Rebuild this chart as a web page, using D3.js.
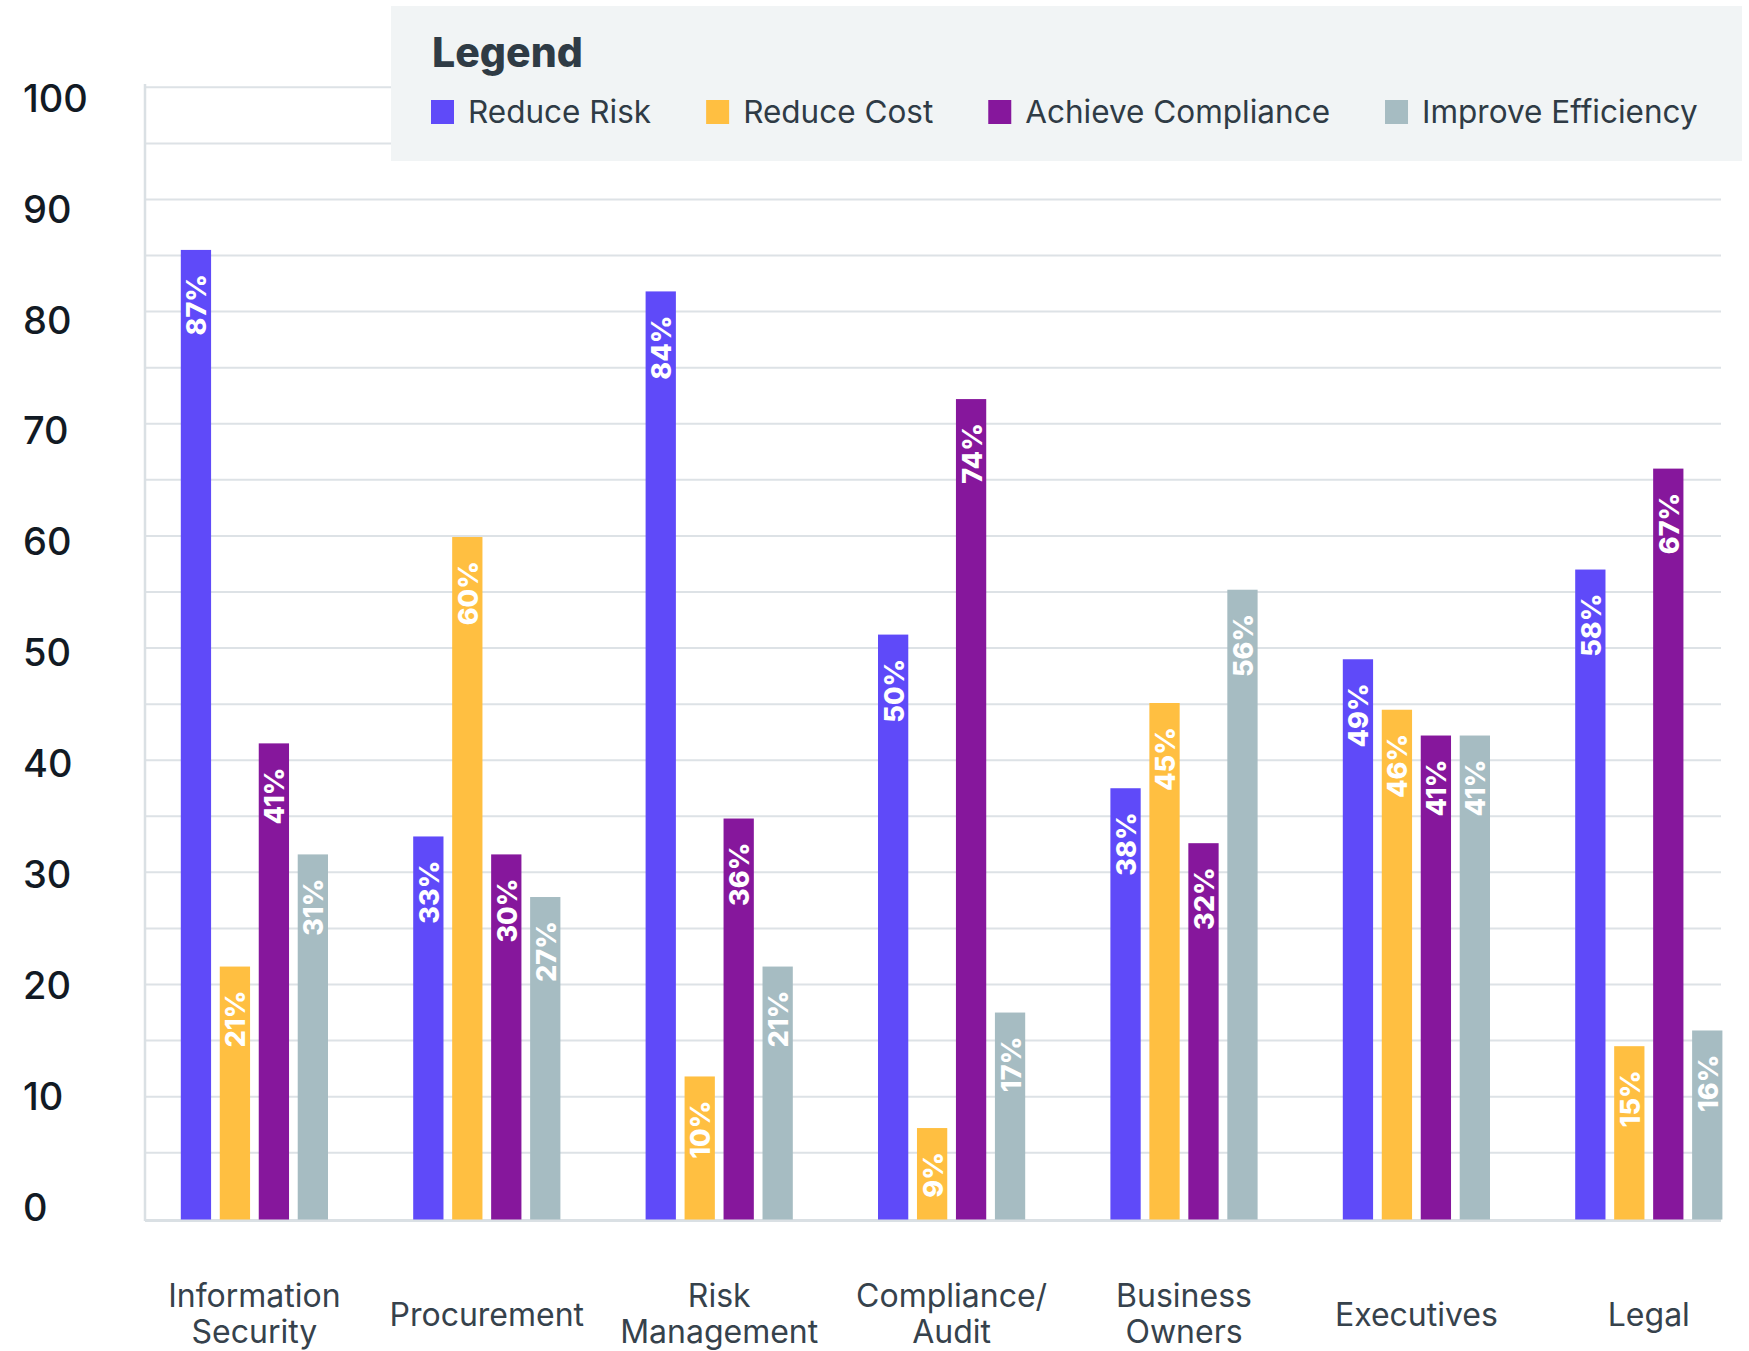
<!DOCTYPE html>
<html>
<head>
<meta charset="utf-8">
<script src="https://cdn.jsdelivr.net/npm/d3@7"></script>
<style>
  body { margin: 0; background: #fff; }
  svg { display: block; font-family: Inter, "Liberation Sans", sans-serif; }
</style>
</head>
<body>
<svg id="chart" width="1749" height="1351"></svg>
<script>
// categories (lines of the axis label)
var categories = [
  ["Information", "Security"],
  ["Procurement"],
  ["Risk", "Management"],
  ["Compliance/", "Audit"],
  ["Business", "Owners"],
  ["Executives"],
  ["Legal"]
];
var series = ["Reduce Risk", "Reduce Cost", "Achieve Compliance", "Improve Efficiency"];
var colors = ["#5f4af9", "#ffbf41", "#86179c", "#a6bcc2"];

// bar heights as drawn in the picture
var reduceRisk = [85.5, 33.2, 81.8, 51.2, 37.5, 49.0, 57.0];
var reduceCost = [21.6, 59.9, 11.8, 7.2, 45.1, 44.5, 14.5];
var achieveCompliance = [41.5, 31.6, 34.8, 72.2, 32.6, 42.2, 66.0];
var improveEfficiency = [31.6, 27.8, 21.6, 17.5, 55.2, 42.2, 15.9];

// the percentages printed on the bars
var riskLabels = [87, 33, 84, 50, 38, 49, 58];
var costLabels = [21, 60, 10, 9, 45, 46, 15];
var complianceLabels = [41, 30, 36, 74, 32, 41, 67];
var efficiencyLabels = [31, 27, 21, 17, 56, 41, 16];

var yTicks = [0, 10, 20, 30, 40, 50, 60, 70, 80, 90, 100];
var gridTicks = d3.range(5, 101, 5);

var values = [reduceRisk, reduceCost, achieveCompliance, improveEfficiency];
var labels = [riskLabels, costLabels, complianceLabels, efficiencyLabels];

var svg = d3.select("#chart");

var left = 145, right = 1721, base = 1220;

var y = d3.scaleLinear().domain([0, 100]).range([1208.8, 87.3]);
var yText = d3.scaleLinear().domain([0, 100]).range([1220.7, 111.7]);

var keys = categories.map(function(d) { return d.join(" "); });
var x0 = d3.scalePoint().domain(keys).range([254.4, 1648.8]);
var x1 = d3.scaleBand().domain(series).range([-73.6, 73.6]).paddingInner(0.223);

// gridlines
svg.append("g")
  .selectAll("line")
  .data(gridTicks)
  .enter()
  .append("line")
  .attr("x1", left)
  .attr("x2", right)
  .attr("y1", function(d) { return y(d); })
  .attr("y2", function(d) { return y(d); })
  .attr("stroke", "#dde2e6")
  .attr("stroke-width", 2);

// axis lines
svg.append("line")
  .attr("x1", left).attr("x2", left)
  .attr("y1", 84).attr("y2", base + 1)
  .attr("stroke", "#dae0e4").attr("stroke-width", 2.5);
svg.append("line")
  .attr("x1", left).attr("x2", right)
  .attr("y1", base + 0.5).attr("y2", base + 0.5)
  .attr("stroke", "#dae0e4").attr("stroke-width", 3);

// y tick labels
svg.append("g")
  .selectAll("text")
  .data(yTicks)
  .enter()
  .append("text")
  .attr("x", 23)
  .attr("y", function(d) { return yText(d); })
  .attr("font-size", 38)
  .attr("font-weight", 500)
  .attr("fill", "#121a24")
  .text(function(d) { return d; });

// bars
var groups = svg.append("g")
  .selectAll("g")
  .data(keys)
  .enter()
  .append("g")
  .attr("transform", function(d) { return "translate(" + x0(d) + ",0)"; });

groups.each(function(cat, ci) {
  var g = d3.select(this);
  var rows = series.map(function(s, si) {
    return { s: s, v: values[si][ci], label: labels[si][ci], color: colors[si] };
  });

  g.selectAll("rect")
    .data(rows)
    .enter()
    .append("rect")
    .attr("x", function(d) { return x1(d.s); })
    .attr("width", x1.bandwidth())
    .attr("y", function(d) { return y(d.v); })
    .attr("height", function(d) { return base - 0.5 - y(d.v); })
    .attr("fill", function(d) { return d.color; });

  g.selectAll("text")
    .data(rows)
    .enter()
    .append("text")
    .attr("transform", function(d) {
      return "translate(" + (x1(d.s) + x1.bandwidth() / 2 + 1) + "," + (y(d.v) + 24) + ") rotate(-90)";
    })
    .attr("text-anchor", "end")
    .attr("dominant-baseline", "central")
    .attr("font-size", 27)
    .attr("font-weight", 800)
    .attr("fill", "#fff")
    .text(function(d) { return d.label + "%"; });
});

// category labels
svg.append("g")
  .selectAll("text")
  .data(categories)
  .enter()
  .append("text")
  .attr("x", function(d) { return x0(d.join(" ")); })
  .attr("text-anchor", "middle")
  .attr("font-size", 32)
  .attr("fill", "#36424c")
  .each(function(d) {
    var t = d3.select(this);
    var startY = d.length == 1 ? 1326 : 1306.5;
    d.forEach(function(line, i) {
      t.append("tspan")
        .attr("x", t.attr("x"))
        .attr("y", startY + i * 36.5)
        .text(line);
    });
  });

// legend
var legend = svg.append("g");
legend.append("rect")
  .attr("x", 391).attr("y", 6)
  .attr("width", 1351).attr("height", 155)
  .attr("fill", "#f1f4f5");
legend.append("text")
  .attr("x", 432).attr("y", 66.5)
  .attr("font-size", 41)
  .attr("font-weight", 800)
  .attr("fill", "#2f3b45")
  .text("Legend");

var lx = 431;
series.forEach(function(s, i) {
  legend.append("rect")
    .attr("x", lx).attr("y", 100)
    .attr("width", 23).attr("height", 24)
    .attr("fill", colors[i]);
  var t = legend.append("text")
    .attr("x", lx + 37).attr("y", 123.3)
    .attr("font-size", 31.5)
    .attr("fill", "#2f3b45")
    .text(s);
  lx = lx + 37 + t.node().getComputedTextLength() + 55;
});
</script>
</body>
</html>
